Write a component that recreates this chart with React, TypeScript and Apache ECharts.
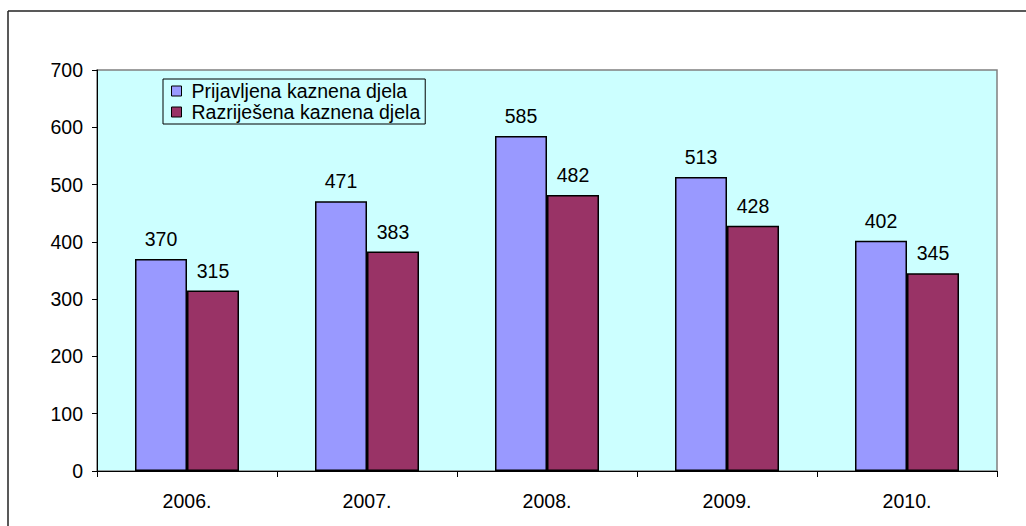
import React, { useEffect, useRef } from "react";
import * as echarts from "echarts";

const categories = ["2006.", "2007.", "2008.", "2009.", "2010."];
const reported = [370, 471, 585, 513, 402];
const solved = [315, 383, 482, 428, 345];
const seriesNames = ["Prijavljena kaznena djela", "Razriješena kaznena djela"];

const FONT = "'Liberation Sans', Arial, sans-serif";

export default function App() {
  const ref = useRef<HTMLDivElement>(null);
  useEffect(() => {
    if (!ref.current) return;
    const chart = echarts.init(ref.current, undefined, { renderer: "svg" });
    const labelCfg = {
      show: true,
      position: "top" as const,
      distance: 10,
      color: "#000",
      fontSize: 19.5,
      fontFamily: FONT,
    };
    chart.setOption({
      animation: false,
      backgroundColor: "#fff",
      textStyle: { fontFamily: FONT },
      grid: {
        left: 97,
        top: 70,
        right: 29,
        bottom: 55,
        show: true,
        backgroundColor: "#CCFFFF",
        borderColor: "#808080",
        borderWidth: 1.5,
      },
      legend: {
        orient: "vertical",
        left: 163,
        top: 79,
        padding: [2, 5, 2, 8],
        itemGap: 1,
        itemWidth: 10,
        itemHeight: 10,
        icon: "rect",
        borderColor: "#000",
        borderWidth: 1,
        backgroundColor: "#CCFFFF",
        textStyle: { fontSize: 19.5, color: "#000", fontFamily: FONT, padding: [0, 0, 0, 5], lineHeight: 20 },
        itemStyle: { borderColor: "#000", borderWidth: 1 },
        data: seriesNames,
      },
      xAxis: {
        type: "category",
        data: categories,
        axisLine: { show: true, lineStyle: { color: "#000", width: 1 } },
        axisTick: { show: true, length: 6, lineStyle: { color: "#000" } },
        axisLabel: { color: "#000", fontSize: 19.5, fontFamily: FONT, margin: 20 },
        splitLine: { show: false },
      },
      yAxis: {
        type: "value",
        min: 0,
        max: 700,
        interval: 100,
        axisLine: { show: true, lineStyle: { color: "#000", width: 1 } },
        axisTick: { show: true, length: 5, lineStyle: { color: "#000" } },
        axisLabel: { color: "#000", fontSize: 19.5, fontFamily: FONT, margin: 14 },
        splitLine: { show: false },
      },
      series: [
        {
          name: seriesNames[0],
          type: "bar",
          data: reported,
          barWidth: 52,
          barGap: "0%",
          itemStyle: { color: "#9999FF", borderColor: "#000", borderWidth: 1.5 },
          label: labelCfg,
        },
        {
          name: seriesNames[1],
          type: "bar",
          data: solved,
          barWidth: 52,
          barGap: "0%",
          itemStyle: { color: "#993366", borderColor: "#000", borderWidth: 1.5 },
          label: labelCfg,
        },
      ],
      graphic: [
        {
          type: "line",
          shape: { x1: 8, y1: 11, x2: 1026, y2: 11 },
          style: { stroke: "#222", lineWidth: 1.5 },
        },
        {
          type: "line",
          shape: { x1: 8, y1: 11, x2: 8, y2: 526 },
          style: { stroke: "#222", lineWidth: 1.5 },
        },
      ],
    });
    return () => chart.dispose();
  }, []);
  return (
    <div
      ref={ref}
      style={{ position: "fixed", left: 0, top: 0, width: 1026, height: 526 }}
    />
  );
}
